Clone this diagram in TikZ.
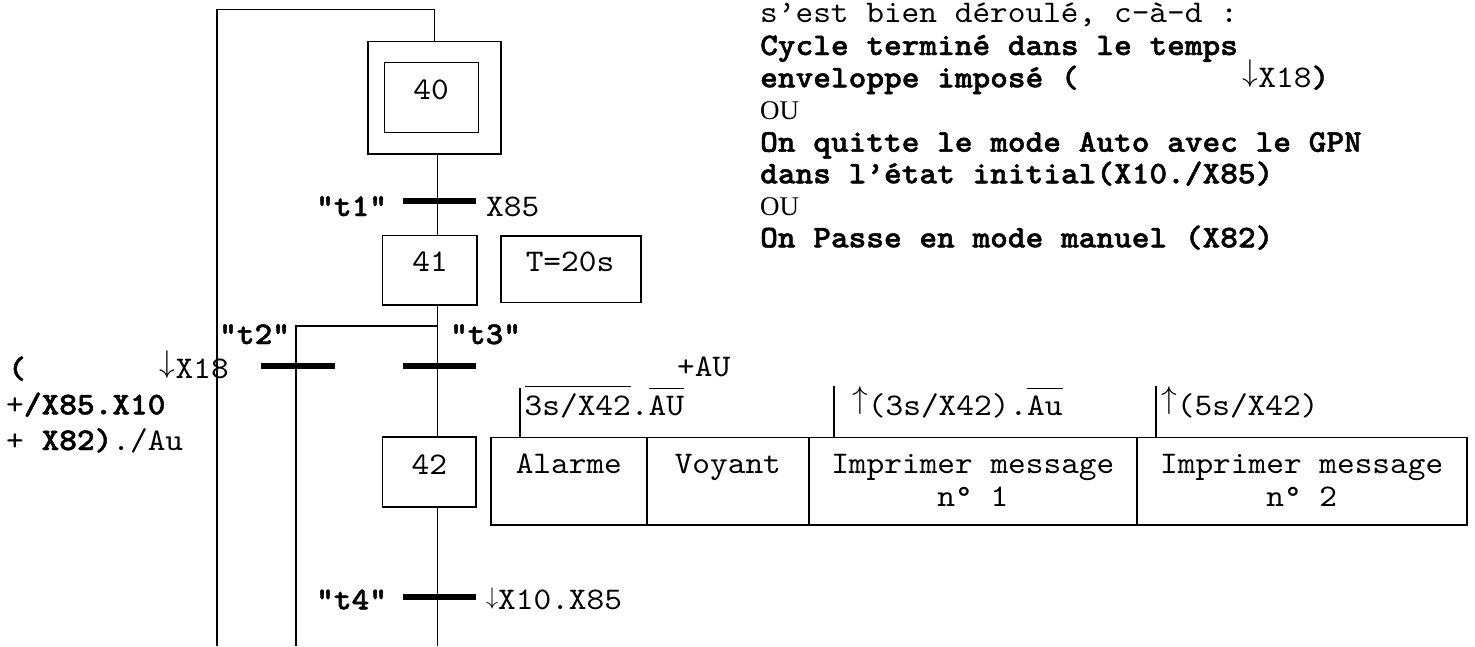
\RequirePackage{fix-cm}
\documentclass[tikz,border=0pt]{standalone}
\usepackage{fontspec}
\setmainfont{Liberation Serif}
\setmonofont{lmmono10-regular.otf}[BoldFont=lmmonolt10-bold.otf, FakeStretch=1.07, BoldFeatures={FakeBold=1.5}]
\newcommand\gmono{\ttfamily\fontsize{31.5}{32}\selectfont}
\newcommand\gser{\rmfamily\fontsize{27}{32}\selectfont}
% arrows set on the baseline
\newcommand\gdn[1][31.5]{{\fontsize{#1}{#1}\selectfont\raisebox{0.194em}{$\downarrow$}}}
\newcommand\gup[1][31.5]{{\fontsize{#1}{#1}\selectfont\raisebox{0.194em}{$\uparrow$}}}
\newcommand\ovl[1]{\vbox{\hrule height 1.6pt\kern 6pt\hbox{#1}}}
\tikzset{
  wire/.style={line width=1.6pt},
  stepbox/.style={draw, line width=1.6pt, inner sep=0pt},
  cellbox/.style={draw, line width=1.6pt, inner sep=0pt, minimum height=87.7pt},
  tbar/.style={fill=black, inner sep=0pt, minimum width=73.3pt, minimum height=5.5pt},
  txt/.style={font=\gmono, inner sep=0pt, anchor=base west},
  ctxt/.style={font=\gmono, inner sep=0pt, anchor=base},
  sertxt/.style={font=\gser, inner sep=0pt, anchor=base west}
}
\begin{document}
\begin{tikzpicture}[x=1pt, y=-1pt]
\useasboundingbox (0,0) rectangle (1475,646);

% step axis and fixed points
\coordinate (ax) at (437.3,0);
\coordinate (loopT) at (217,9.5);
\coordinate (loopB) at (217,646);
\coordinate (brR) at (437.3,326);
\coordinate (brL) at (296,326);
\coordinate (t2B) at (296,646);
\coordinate (axB) at (437.3,646);

% steps
\node[stepbox, minimum width=133.3pt, minimum height=112.4pt] (s40o) at (434.4,97.5) {};
\node[stepbox, minimum width=94pt, minimum height=70pt] (s40) at (431.3,97.3) {};
\node[ctxt] (s40t) at (431,99.5) {40};
\node[stepbox, minimum width=94.4pt, minimum height=69.4pt] (s41) at (429.5,270) {};
\node[ctxt] (s41t) at (430,271.7) {41};
\node[stepbox, minimum width=140.3pt, minimum height=66.6pt] (tmr) at (570.85,269) {};
\node[ctxt] (tmrt) at (570,271.7) {T=20s};
\node[stepbox, minimum width=93.7pt, minimum height=70pt] (s42) at (429.2,471.7) {};
\node[ctxt] (s42t) at (429.3,474) {42};

% links
\draw[wire] (loopB) -- (loopT) -| (s40o.north);
\draw[wire] (s40o.south -| ax) -- (s41.north -| ax);
\draw[wire] (s41.south -| ax) -- (brR) -- (s42.north -| ax);
\draw[wire] (brR) -- (brL) -- (t2B);
\draw[wire] (s42.south -| ax) -- (axB);

% transitions
\node[tbar] (t1) at (439.3,201) {};
\node[tbar] (t2) at (298,366) {};
\node[tbar] (t3) at (439.3,366) {};
\node[tbar] (t4) at (439.3,597) {};

\node[txt, font=\gmono\bfseries] (t1l) at (316,216) {"t1"};
\node[txt] (t1r) at (486,216) {X85};
\node[txt, font=\gmono\bfseries] (t2l) at (219,344) {"t2"};
\node[txt, font=\gmono\bfseries] (t3l) at (450,344) {"t3"};
\node[txt, font=\gmono\bfseries] (t4l) at (316,609.3) {"t4"};
\node[txt] (t4r) at (486,609.3) {\gdn[24]X10.X85};

% receptivity of t2
\node[txt] (c2a) at (8,378.3) {\textbf{(}\hspace{134pt}\gdn X18};
\node[txt] (c2b) at (6,414.3) {+\textbf{/X85.X10}};
\node[txt] (c2c) at (6,450) {+ \textbf{X82)}./Au};

% actions of step 42
\node[cellbox, minimum width=155.7pt] (a1) at (568.85,481.15) {};
\node[cellbox, minimum width=162.3pt] (a2) at (727.85,481.15) {};
\node[cellbox, minimum width=327.7pt] (a3) at (972.85,481.15) {};
\node[cellbox, minimum width=330pt] (a4) at (1301.7,481.15) {};
\node[ctxt] (a1t) at (568.85,473.3) {Alarme};
\node[ctxt] (a2t) at (727.85,473.3) {Voyant};
\node[ctxt] (a3t) at (972.85,473.3) {Imprimer message};
\node[ctxt] (a3u) at (972.85,506.7) {n° 1};
\node[ctxt] (a4t) at (1301.7,473.3) {Imprimer message};
\node[ctxt] (a4u) at (1301.7,506.7) {n° 2};

% action conditions
\coordinate (k1) at (520,387.7);
\coordinate (k3) at (834,386);
\coordinate (k4) at (1156,386);
\draw[wire] (k1) -- (k1 |- a1.north);
\draw[wire] (k3) -- (k3 |- a3.north);
\draw[wire] (k4) -- (k4 |- a4.north);
\node[txt] (q1) at (524.5,415) {\ovl{3s/X42}.\ovl{AU}};
\node[txt] (q1b) at (677,376.7) {+AU};
\node[txt] (q3) at (852,415) {\gup(3s/X42).\ovl{Au}};
\node[txt] (q4) at (1161,415) {\gup(5s/X42)};

% explanatory note
\node[txt] (n1) at (760,22.7) {s’est bien déroulé, c-à-d :};
\node[txt, font=\gmono\bfseries] (n2) at (760,55) {Cycle terminé dans le temps};
\node[txt, font=\gmono\bfseries] (n3) at (760,87.3) {enveloppe imposé (\hspace{164pt}\mdseries\gdn X18\bfseries)};
\node[sertxt] (n4) at (760,119.3) {OU};
\node[txt, font=\gmono\bfseries] (n5) at (760,151.7) {On quitte le mode Auto avec le GPN};
\node[txt, font=\gmono\bfseries] (n6) at (760,183.3) {dans l’état initial(X10./X85)};
\node[sertxt] (n7) at (760,215) {OU};
\node[txt, font=\gmono\bfseries] (n8) at (760,247.3) {On Passe en mode manuel (X82)};
\end{tikzpicture}
\end{document}
